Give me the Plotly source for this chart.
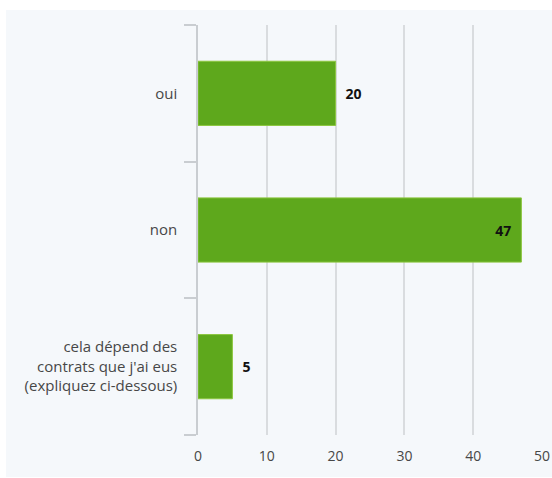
import plotly.graph_objects as go

# Survey answers and counts
categories = ["oui", "non", "cela dépend des<br>contrats que j'ai eus<br>(expliquez ci-dessous)"]
counts = [20, 47, 5]
label_positions = ["outside", "inside", "outside"]
x_ticks = [0, 10, 20, 30, 40, 50]

BAR_GREEN = "#5ea81c"
PANEL_BG = "#f5f8fb"
GRID = "#d9dcdf"
TEXT = "#474747"
FONT = "Open Sans"

# Outside labels get a small gap from the bar end, the inside one a gap from the edge
pad = "\u2002"
label_templates = [
    pad + "%{x}" if pos == "outside" else "%{x}" + pad
    for pos in label_positions
]

fig = go.Figure(
    go.Bar(
        y=categories,
        x=counts,
        orientation="h",
        marker=dict(color=BAR_GREEN, line=dict(color="#8cc63f", width=1)),
        width=0.47,
        texttemplate=label_templates,
        textposition=label_positions,
        insidetextanchor="end",
        textfont=dict(family=FONT, size=14, color="#111111", weight="bold"),
        cliponaxis=False,
        hoverinfo="skip",
    )
)

fig.update_layout(
    width=552,
    height=478,
    margin=dict(l=198, r=10, t=25, b=43, autoexpand=False),
    paper_bgcolor="white",
    plot_bgcolor="rgba(0,0,0,0)",
    showlegend=False,
    font=dict(family=FONT, size=14, color=TEXT),
    shapes=[
        dict(
            type="rect",
            xref="paper",
            yref="paper",
            x0=(6 - 198) / 344,
            x1=(552 - 198) / 344,
            y0=(435 - 477) / 410,
            y1=(435 - 10) / 410,
            fillcolor=PANEL_BG,
            line=dict(width=0),
            layer="below",
        )
    ],
    uniformtext=dict(minsize=8, mode="show"),
)

fig.update_xaxes(
    range=[0, 50],
    tickvals=x_ticks,
    showgrid=True,
    gridcolor=GRID,
    gridwidth=1.5,
    zeroline=False,
    showline=False,
    ticks="",
    automargin=False,
    tickfont=dict(family=FONT, size=14, color=TEXT),
    ticklabelstandoff=11,
    fixedrange=True,
)

fig.update_yaxes(
    categoryorder="array",
    categoryarray=categories[::-1],
    showline=True,
    linecolor="#c9cdd1",
    linewidth=1.5,
    ticks="outside",
    tickson="boundaries",
    ticklen=12,
    tickcolor="#c9cdd1",
    tickwidth=1.5,
    showgrid=False,
    automargin=False,
    tickfont=dict(family=FONT, size=15, color=TEXT),
    ticklabelstandoff=16,
    fixedrange=True,
)

fig.write_html("out.html")
